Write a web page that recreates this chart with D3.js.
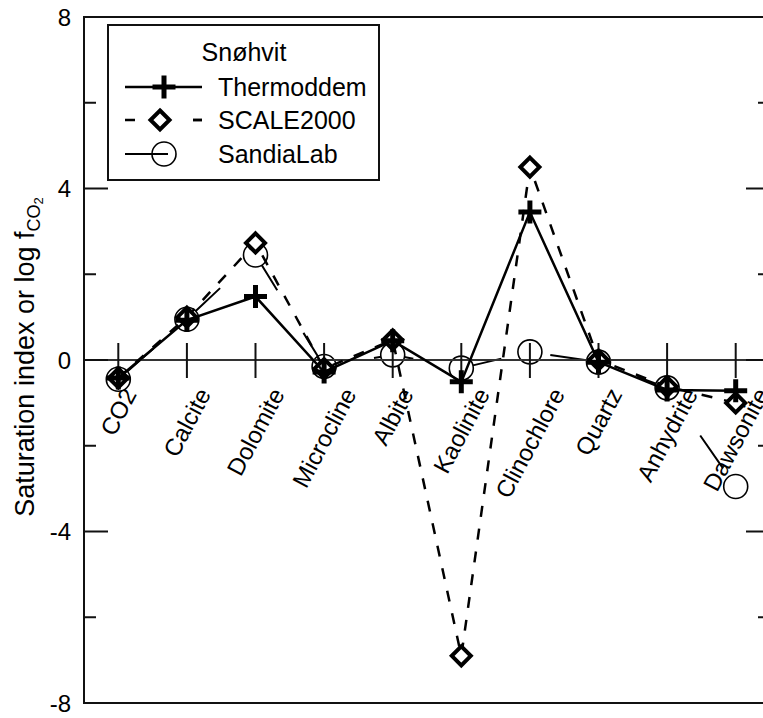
<!DOCTYPE html>
<html>
<head>
<meta charset="utf-8">
<script src="https://cdn.jsdelivr.net/npm/d3@7"></script>
<style>
  html, body { margin: 0; padding: 0; background: #fff; }
  svg { display: block; font-family: "Liberation Sans", Arial, sans-serif; }
</style>
</head>
<body>
<svg id="chart" width="763" height="718"></svg>
<script>
const categories = ["CO2","Calcite","Dolomite","Microcline","Albite","Kaolinite","Clinochlore","Quartz","Anhydrite","Dawsonite"];
const thermoddem = [-0.42, 0.93, 1.48, -0.28, 0.45, -0.51, 3.45, -0.05, -0.7, -0.72];
const scale2000  = [-0.42, 1.0, 2.73, -0.2, 0.47, -6.9, 4.5, 0.0, -0.62, -1.0];
const sandiaLab  = [-0.45, 0.95, 2.45, -0.15, 0.12, -0.19, 0.19, -0.05, -0.65, -2.95];
const yMajorTicks = [-8, -4, 0, 4, 8];
const yMinorTicks = [-6, -2, 2, 6];
const legendTitle = "Snøhvit";
const seriesNames = ["Thermoddem", "SCALE2000", "SandiaLab"];

const svg = d3.select("#chart");
const L = 84, R = 770, T = 17, B = 703;

const x = d3.scaleBand().domain(categories).range([L, R]).paddingInner(0).paddingOuter(0);
const xc = d => x(d) + x.bandwidth() / 2;
const y = d3.scaleLinear().domain([-8, 8]).range([B, T]);

const plusSym = { draw(ctx, size) { const h = Math.sqrt(size) / 2; ctx.moveTo(-h, 0); ctx.lineTo(h, 0); ctx.moveTo(0, -h); ctx.lineTo(0, h); } };
const diamondSym = { draw(ctx, size) { const h = Math.sqrt(size) / 2; ctx.moveTo(0, -h); ctx.lineTo(h, 0); ctx.lineTo(0, h); ctx.lineTo(-h, 0); ctx.closePath(); } };

// category labels: rotated, bounding box centred under the tick
const ang = 62, rad = ang * Math.PI / 180, capH = 17;
const labG = svg.append("g");
categories.forEach(c => {
  const t = labG.append("text")
    .attr("text-anchor", "end")
    .attr("font-size", 24)
    .attr("fill", "#000")
    .text(c);
  const len = t.node().getComputedTextLength();
  const dx = (len * Math.cos(rad) + capH * Math.sin(rad)) / 2;
  t.attr("transform", `translate(${xc(c) + dx},${y(0) + 34}) rotate(${-ang})`);
});

const line = d3.line().x((d, i) => xc(categories[i])).y(d => y(d));

// SandiaLab series (long dashes)
const pts = sandiaLab.map((d, i) => [xc(categories[i]), y(d)]);
let cum = [0];
for (let i = 1; i < pts.length; i++) cum.push(cum[i - 1] + Math.hypot(pts[i][0] - pts[i - 1][0], pts[i][1] - pts[i - 1][1]));
const dashStart = cum[8] + 58, period = 90;
const offset = period - (dashStart % period);
svg.append("path").datum(sandiaLab).attr("d", line)
  .attr("fill", "none").attr("stroke", "#000").attr("stroke-width", 2)
  .attr("stroke-dasharray", "40,50").attr("stroke-dashoffset", offset);
svg.append("g").selectAll("path").data(sandiaLab).join("path")
  .attr("transform", (d, i) => `translate(${xc(categories[i])},${y(d)})`)
  .attr("d", d3.symbol(d3.symbolCircle, Math.PI * 12 * 12))
  .attr("fill", "#fff").attr("stroke", "#000").attr("stroke-width", 1.6);

// axes frame
const axG = svg.append("g").attr("stroke", "#111").attr("fill", "none");
axG.append("line").attr("x1", L).attr("x2", L).attr("y1", T).attr("y2", B).attr("stroke-width", 2);
axG.append("line").attr("x1", R).attr("x2", R).attr("y1", T).attr("y2", B).attr("stroke-width", 2);
axG.append("line").attr("x1", L - 1).attr("x2", R).attr("y1", T).attr("y2", T).attr("stroke-width", 2);
axG.append("line").attr("x1", L - 1).attr("x2", R).attr("y1", B).attr("y2", B).attr("stroke-width", 2);
axG.append("line").attr("x1", L).attr("x2", R).attr("y1", y(0)).attr("y2", y(0)).attr("stroke-width", 2.2).attr("stroke", "#333");

yMajorTicks.forEach(v => {
  axG.append("line").attr("x1", L).attr("x2", L + 24).attr("y1", y(v)).attr("y2", y(v)).attr("stroke-width", 2);
  axG.append("line").attr("x1", R).attr("x2", R - 24).attr("y1", y(v)).attr("y2", y(v)).attr("stroke-width", 2);
});
yMinorTicks.forEach(v => {
  axG.append("line").attr("x1", L).attr("x2", L + 12).attr("y1", y(v)).attr("y2", y(v)).attr("stroke-width", 2);
  axG.append("line").attr("x1", R).attr("x2", R - 12).attr("y1", y(v)).attr("y2", y(v)).attr("stroke-width", 2);
});
svg.append("g").selectAll("text").data(yMajorTicks).join("text")
  .attr("x", 71).attr("y", d => y(d) + 8.5)
  .attr("text-anchor", "end").attr("font-size", 24).attr("fill", "#000")
  .text(d => d);

categories.forEach(c => {
  axG.append("line").attr("x1", xc(c)).attr("x2", xc(c)).attr("y1", y(0) - 17).attr("y2", y(0) + 18).attr("stroke-width", 2);
});

// y axis title
const yt = svg.append("text")
  .attr("transform", `translate(34,${357}) rotate(-90)`)
  .attr("text-anchor", "middle").attr("font-size", 27).attr("fill", "#000");
yt.append("tspan").text("Saturation index or log f");
yt.append("tspan").attr("font-size", 18).attr("dy", 6).text("CO");
yt.append("tspan").attr("font-size", 13).attr("dy", 3).text("2");

// SCALE2000 series
svg.append("path").datum(scale2000).attr("d", line)
  .attr("fill", "none").attr("stroke", "#000").attr("stroke-width", 2.5)
  .attr("stroke-dasharray", "11,12");
svg.append("g").selectAll("path").data(scale2000).join("path")
  .attr("transform", (d, i) => `translate(${xc(categories[i])},${y(d)})`)
  .attr("d", d3.symbol(diamondSym, 19 * 19))
  .attr("fill", "#fff").attr("stroke", "#000").attr("stroke-width", 4).attr("stroke-linejoin", "miter");

// Thermoddem series
svg.append("path").datum(thermoddem).attr("d", line)
  .attr("fill", "none").attr("stroke", "#000").attr("stroke-width", 2.5);
svg.append("g").selectAll("path").data(thermoddem).join("path")
  .attr("transform", (d, i) => `translate(${xc(categories[i])},${y(d)})`)
  .attr("d", d3.symbol(plusSym, 23 * 23))
  .attr("fill", "none").attr("stroke", "#000").attr("stroke-width", 5);

// Legend
const lg = svg.append("g");
lg.append("rect").attr("x", 108).attr("y", 25).attr("width", 271).attr("height", 155)
  .attr("fill", "#fff").attr("stroke", "#111").attr("stroke-width", 2);
lg.append("text").attr("x", 244).attr("y", 61).attr("text-anchor", "middle")
  .attr("font-size", 25).attr("fill", "#000").text(legendTitle);
const rowsY = [87, 120, 154];
const lineX1 = 125, lineX2 = 202, symX = 164;
lg.append("line").attr("x1", lineX1).attr("x2", lineX2).attr("y1", rowsY[0]).attr("y2", rowsY[0]).attr("stroke", "#000").attr("stroke-width", 2.5);
lg.append("path").attr("transform", `translate(${symX},${rowsY[0]})`).attr("d", d3.symbol(plusSym, 23 * 23)).attr("stroke", "#000").attr("stroke-width", 5).attr("fill", "none");
lg.append("line").attr("x1", lineX1).attr("x2", lineX2).attr("y1", rowsY[1]).attr("y2", rowsY[1]).attr("stroke", "#000").attr("stroke-width", 2.5).attr("stroke-dasharray", "10,58");
lg.append("line").attr("x1", lineX2 - 9).attr("x2", lineX2).attr("y1", rowsY[1]).attr("y2", rowsY[1]).attr("stroke", "#000").attr("stroke-width", 2.5);
lg.append("path").attr("transform", `translate(${symX - 4},${rowsY[1]})`).attr("d", d3.symbol(diamondSym, 19 * 19)).attr("stroke", "#000").attr("stroke-width", 4).attr("fill", "#fff");
lg.append("line").attr("x1", lineX1).attr("x2", lineX2).attr("y1", rowsY[2]).attr("y2", rowsY[2]).attr("stroke", "#000").attr("stroke-width", 2).attr("stroke-dasharray", "43,50");
lg.append("path").attr("transform", `translate(${symX},${rowsY[2]})`).attr("d", d3.symbol(d3.symbolCircle, Math.PI * 12 * 12)).attr("stroke", "#000").attr("stroke-width", 1.6).attr("fill", "none");
seriesNames.forEach((n, i) => {
  lg.append("text").attr("x", 218).attr("y", rowsY[i] + 9).attr("font-size", 25).attr("fill", "#000").text(n);
});
</script>
</body>
</html>
